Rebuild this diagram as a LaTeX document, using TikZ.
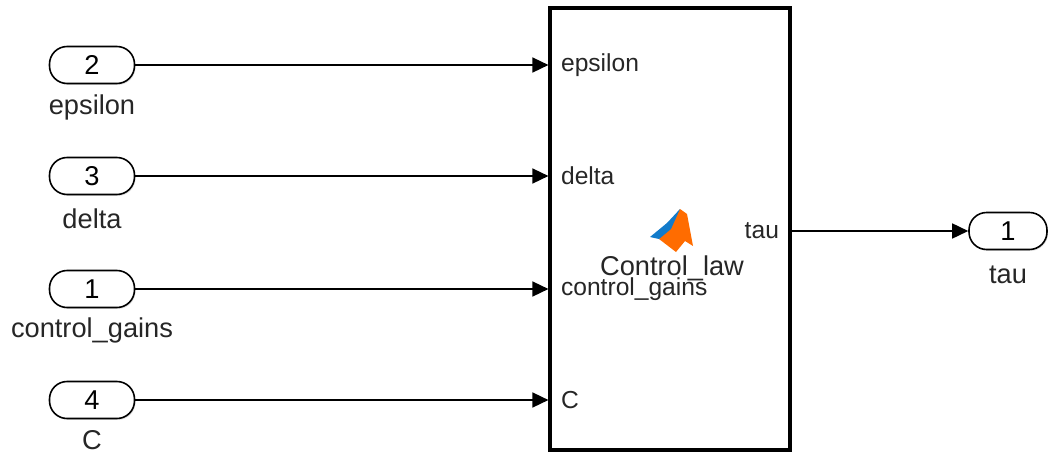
\documentclass[tikz,border=0pt]{standalone}
\usepackage{fontspec}
\setmainfont{Liberation Sans}
\usepackage{tikz}
\usetikzlibrary{arrows.meta,shadows}

\tikzset{
  port/.style={draw, line width=0.9pt, rounded corners=10pt, minimum width=85*0.02cm,
    minimum height=37*0.02cm, fill=white, drop shadow={opacity=0.25, shadow xshift=0.6pt, shadow yshift=-0.8pt},
    font=\fontsize{15.5}{17}\selectfont},
  portname/.style={font=\fontsize{15.5}{17}\selectfont, text=black!85},
  pin/.style={font=\fontsize{14}{16}\selectfont, inner sep=1pt, text=black!85},
  sig/.style={line width=0.9pt, ->},
}

\begin{document}
\begin{tikzpicture}[x=0.02cm, y=-0.02cm, >={Triangle[length=0.32cm, width=0.3cm]}]
\useasboundingbox (0,0) rectangle (1048,453);
% the block
\node[draw, line width=1.8pt, minimum width=240*0.02cm, minimum height=442*0.02cm] (law) at (670,229) {};
% inports
\node[port] (in2) at (92,65) {2};
\node[port] (in3) at (92,176) {3};
\node[port] (in1) at (92,289) {1};
\node[port] (in4) at (92,400) {4};
\node[portname] (nEps) at (92,107) {epsilon};
\node[portname] (nDel) at (92,219) {delta};
\node[portname] (nGain) at (92,330) {control\_gains};
\node[portname] (nC) at (92,440) {C};
% outport
\node[port, minimum width=78*0.02cm] (out1) at (1008,231) {1};
\node[portname] (nTau) at (1008,275) {tau};
% pin labels
\node[pin, anchor=west] (pEps) at ([xshift=6pt]law.west |- in2) {epsilon};
\node[pin, anchor=west] (pDel) at ([xshift=6pt]law.west |- in3) {delta};
\node[pin, anchor=west] (pGain) at ([xshift=6pt]law.west |- in1) {control\_gains};
\node[pin, anchor=west] (pC) at ([xshift=6pt]law.west |- in4) {C};
\node[pin, anchor=east] (pTau) at ([xshift=-6pt]law.east |- out1) {tau};
% signals
\foreach \p in {in2,in3,in1,in4}
  \draw[sig] (\p.east) -- (\p.east -| law.west);
\draw[sig] (law.east |- out1) -- (out1.west);
% icon
\fill[orange!85!red] (659,239) -- (680,209) -- (687,214) -- (693,246) -- (685,241) -- (676,252) -- cycle;
\fill[cyan!60!blue] (650,237) -- (667,223) -- (680,209) -- (671,229) -- (659,239) -- cycle;
\node[font=\fontsize{15.5}{17}\selectfont, text=black!85] (lawName) at (672,268) {Control\_law};
\end{tikzpicture}
\end{document}
